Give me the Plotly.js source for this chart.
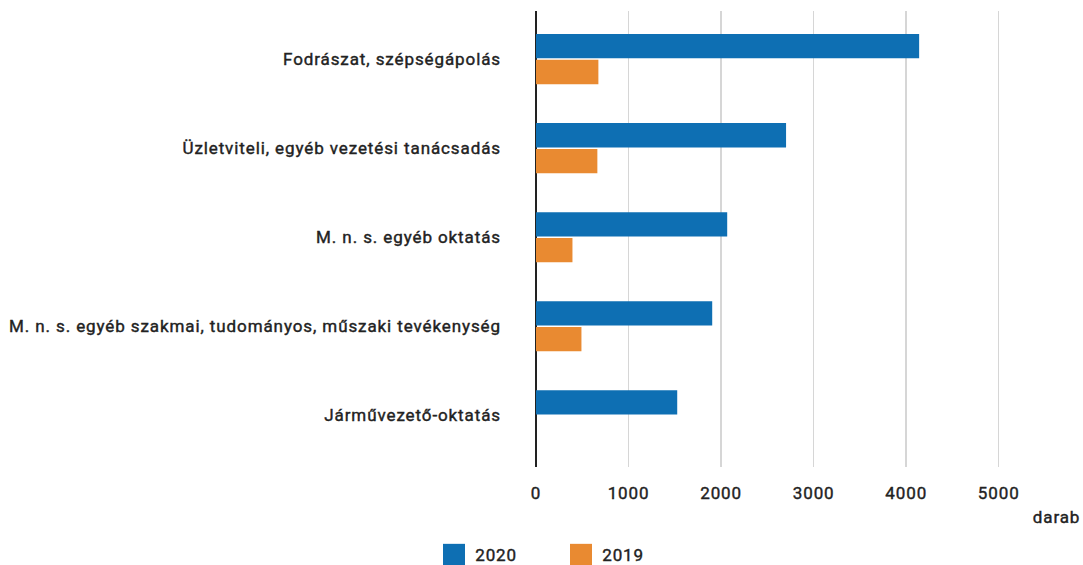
<!DOCTYPE html>
<html>
<head>
<meta charset="utf-8">
<script src="https://cdn.plot.ly/plotly-3.0.1.min.js"></script>
<style>html,body{margin:0;padding:0;background:#fff;}#chart{width:1083px;height:565px;}
#chart text{letter-spacing:0.9px;stroke:#222222;stroke-width:0.4px;}</style>
</head>
<body>
<div id="chart"></div>
<script>
const categories = [
  "Fodrászat, szépségápolás",
  "Üzletviteli, egyéb vezetési tanácsadás",
  "M. n. s. egyéb oktatás",
  "M. n. s. egyéb szakmai, tudományos, műszaki tevékenység",
  "Járművezető-oktatás"
];
const values2020 = [4140, 2702, 2066, 1904, 1526];
const values2019 = [674, 663, 394, 491, null];
const seriesNames = ["2020", "2019"];
const xTicks = [0, 1000, 2000, 3000, 4000, 5000];
const unitLabel = "darab";

const colors = ["#0e6fb3", "#e98a31"];
const FONT = "Roboto, 'DejaVu Sans', sans-serif";
const TEXT = "#222222";
const FS = 17;

const traces = [
  {type: "bar", orientation: "h", name: seriesNames[0], y: categories, x: values2020,
   marker: {color: colors[0]}, hoverinfo: "x+y"},
  {type: "bar", orientation: "h", name: seriesNames[1], y: categories, x: values2019,
   marker: {color: colors[1]}, hoverinfo: "x+y"}
];

const layout = {
  width: 1083, height: 565,
  margin: {l: 536, r: 38, t: 11, b: 98, pad: 0},
  paper_bgcolor: "#ffffff", plot_bgcolor: "#ffffff",
  font: {family: FONT, size: FS, color: TEXT},
  barmode: "group", bargap: 0.42, bargroupgap: 0.06,
  showlegend: false,
  xaxis: {
    range: [0, 5500], tickvals: xTicks, ticktext: xTicks.map(String),
    showgrid: true, gridcolor: "#d6d6d6", gridwidth: 1.5,
    zeroline: true, zerolinecolor: "#222222", zerolinewidth: 2,
    showline: false, ticks: "", ticklabelstandoff: 14,
    tickfont: {family: FONT, size: FS, color: TEXT},
    automargin: false
  },
  yaxis: {
    type: "category", range: [4.58, -0.54],
    showgrid: false, zeroline: false, showline: false, ticks: "",
    ticklabelstandoff: 34,
    tickfont: {family: FONT, size: FS, color: TEXT},
    automargin: false
  },
  shapes: [
    {type: "rect", xref: "paper", yref: "paper", x0: -0.1827, x1: -0.1395, y0: -0.1685, y1: -0.2166,
     fillcolor: colors[0], line: {width: 0}},
    {type: "rect", xref: "paper", yref: "paper", x0: 0.0668, x1: 0.1100, y0: -0.1685, y1: -0.2166,
     fillcolor: colors[1], line: {width: 0}}
  ],
  annotations: [
    {xref: "paper", yref: "paper", x: 1.069, y: -0.109, xanchor: "right", yanchor: "middle",
     text: unitLabel, showarrow: false, font: {family: FONT, size: FS, color: TEXT}},
    {xref: "paper", yref: "paper", x: -0.1198, y: -0.1926, xanchor: "left", yanchor: "middle",
     text: seriesNames[0], showarrow: false, font: {family: FONT, size: FS, color: TEXT}},
    {xref: "paper", yref: "paper", x: 0.1297, y: -0.1926, xanchor: "left", yanchor: "middle",
     text: seriesNames[1], showarrow: false, font: {family: FONT, size: FS, color: TEXT}}
  ]
};

Plotly.newPlot("chart", traces, layout, {displayModeBar: false, staticPlot: true});
</script>
</body>
</html>
